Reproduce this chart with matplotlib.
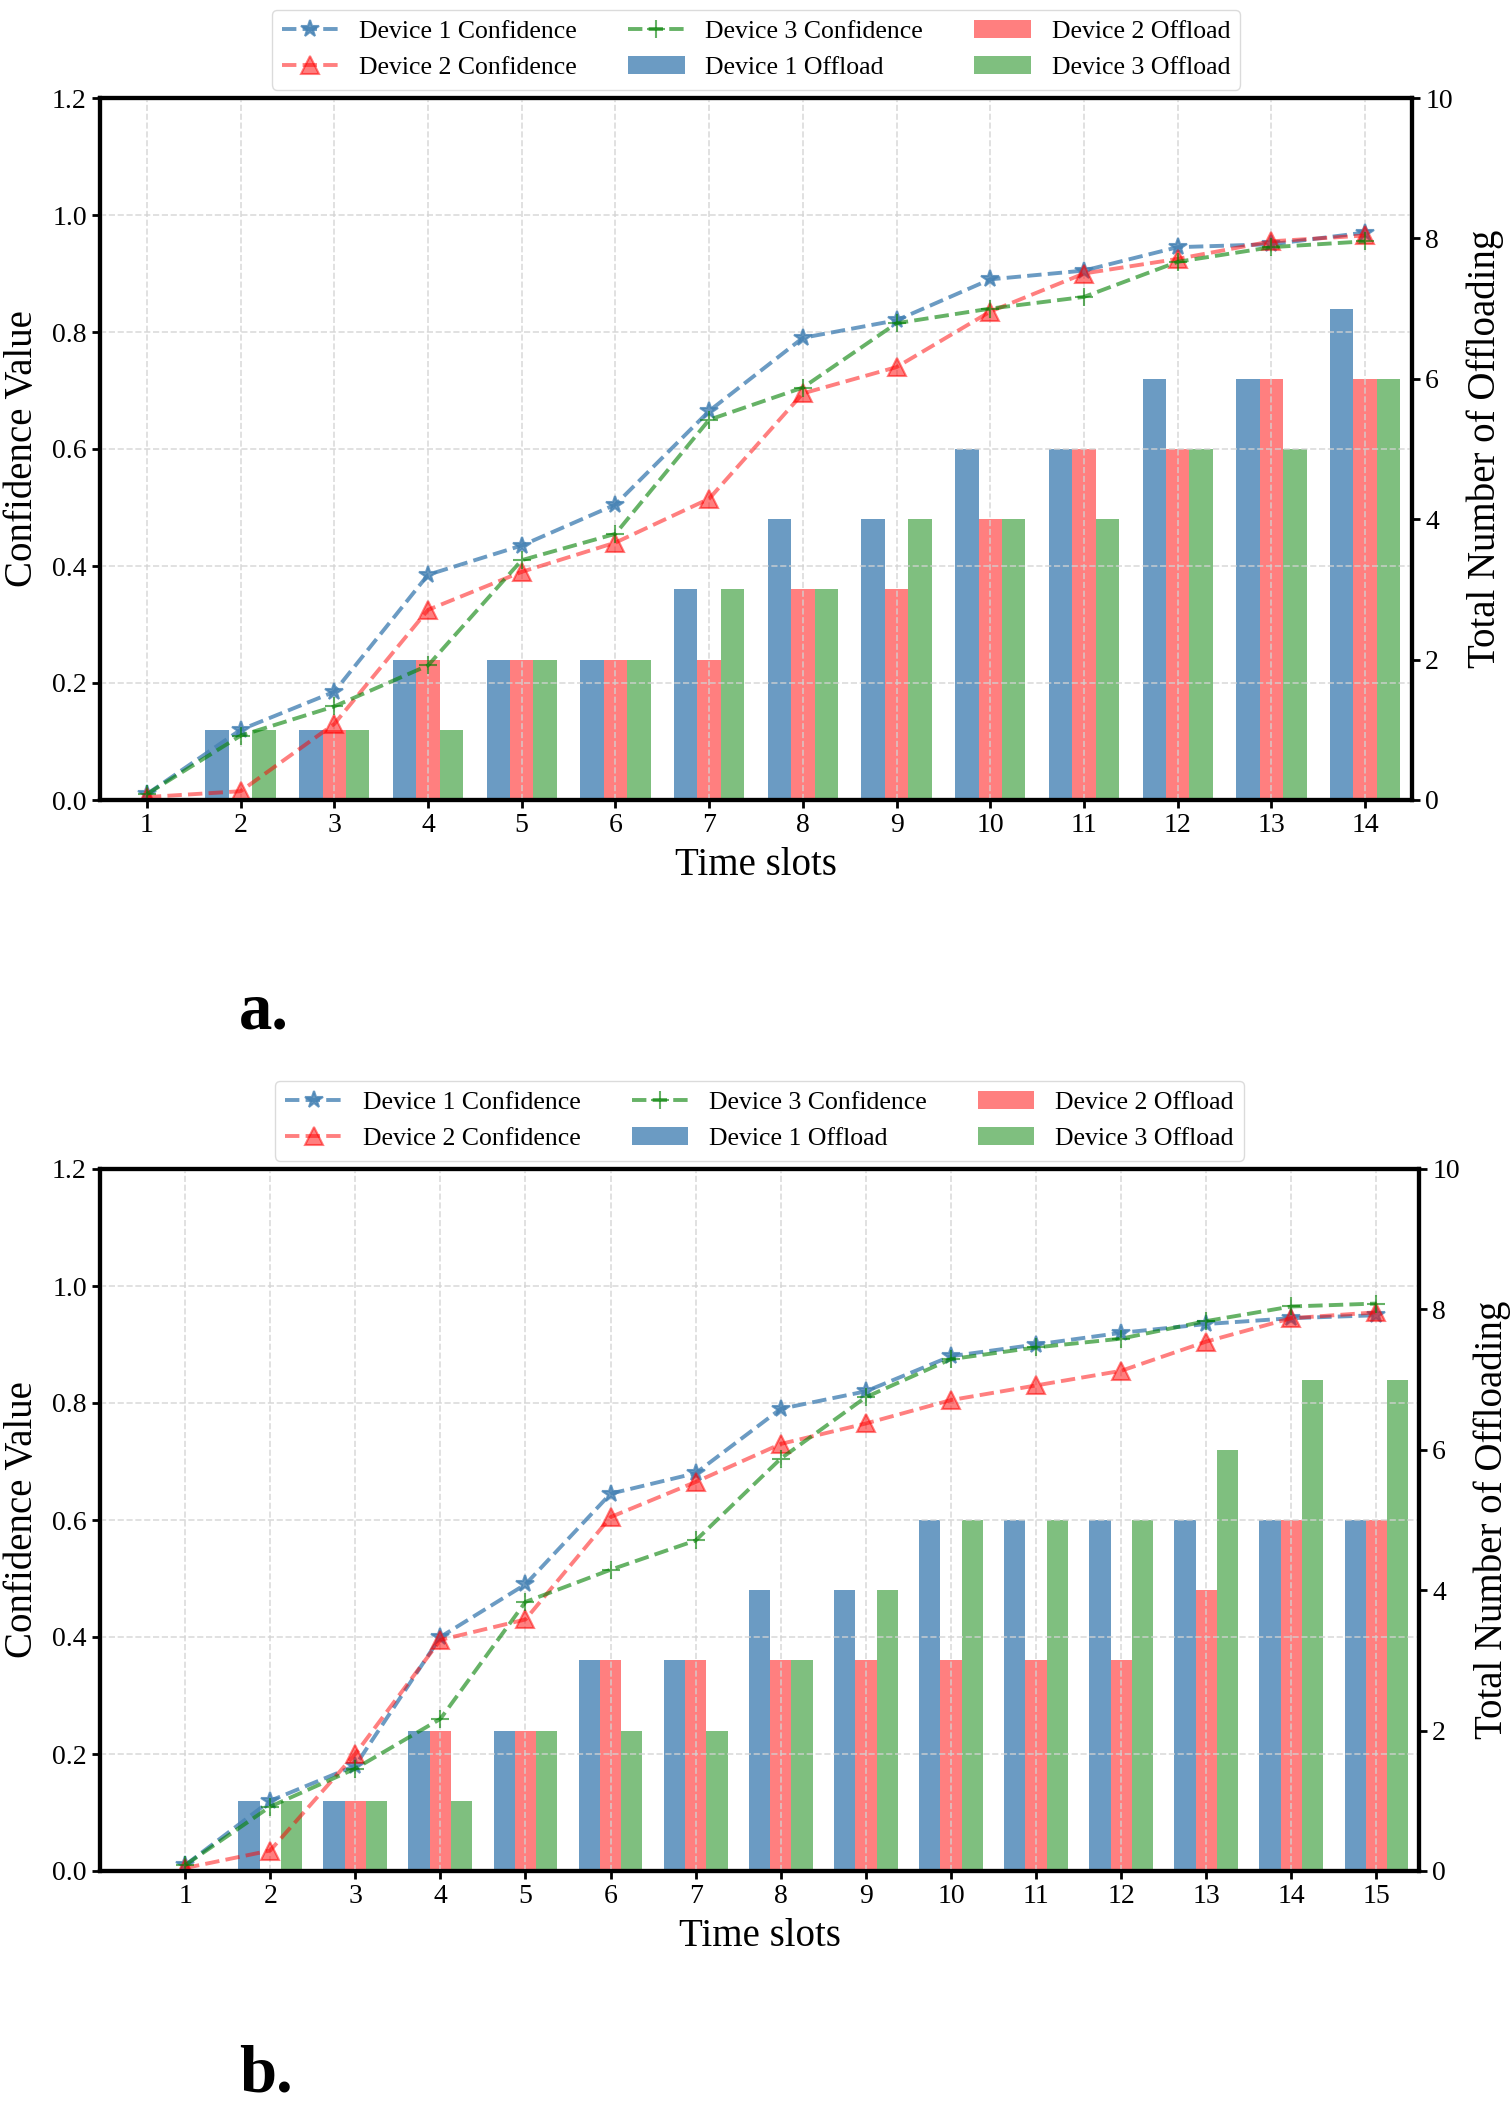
import numpy as np
import matplotlib
matplotlib.use("Agg")
import matplotlib.pyplot as plt

plt.rcParams["font.family"] = ["Liberation Serif", "DejaVu Serif"]

# panel a
slots_a = list(range(1, 15))
conf1_a = [0.01, 0.12, 0.185, 0.385, 0.435, 0.505, 0.665, 0.79, 0.82, 0.89, 0.905, 0.945, 0.95, 0.97]
conf2_a = [0.005, 0.015, 0.13, 0.325, 0.39, 0.44, 0.515, 0.695, 0.74, 0.835, 0.90, 0.925, 0.955, 0.965]
conf3_a = [0.01, 0.11, 0.16, 0.23, 0.41, 0.455, 0.65, 0.705, 0.815, 0.84, 0.86, 0.92, 0.945, 0.955]
off1_a = [0, 1, 1, 2, 2, 2, 3, 4, 4, 5, 5, 6, 6, 7]
off2_a = [0, 0, 1, 2, 2, 2, 2, 3, 3, 4, 5, 5, 6, 6]
off3_a = [0, 1, 1, 1, 2, 2, 3, 3, 4, 4, 4, 5, 5, 6]

# panel b
slots_b = list(range(1, 16))
conf1_b = [0.01, 0.12, 0.18, 0.40, 0.49, 0.645, 0.68, 0.79, 0.82, 0.88, 0.90, 0.92, 0.935, 0.945, 0.95]
conf2_b = [0.005, 0.035, 0.20, 0.395, 0.43, 0.605, 0.665, 0.73, 0.765, 0.805, 0.83, 0.855, 0.905, 0.945, 0.955]
conf3_b = [0.01, 0.11, 0.175, 0.26, 0.46, 0.515, 0.565, 0.705, 0.81, 0.875, 0.895, 0.91, 0.94, 0.965, 0.97]
off1_b = [0, 1, 1, 2, 2, 3, 3, 4, 4, 5, 5, 5, 5, 5, 5]
off2_b = [0, 0, 1, 2, 2, 3, 3, 3, 3, 3, 3, 3, 4, 5, 5]
off3_b = [0, 1, 1, 1, 2, 2, 2, 3, 4, 5, 5, 5, 6, 7, 7]

W, H = 1512, 2107
fig = plt.figure(figsize=(W / 100, H / 100), dpi=100)

BAR_W = 0.25
TICK_FS = 20
LABEL_FS = 28


def panel(rect, slots, confs, offs, xlim, tag, tag_xy):
    ax = fig.add_axes(rect)
    ax2 = ax.twinx()
    # confidence lines and grid sit above the bars
    ax.set_zorder(ax2.get_zorder() + 1)
    ax.patch.set_visible(False)

    x = np.array(slots)
    bar_cols = [("steelblue", 0.8), ("red", 0.5), ("green", 0.5)]
    bars = []
    for i, (o, (c, a)) in enumerate(zip(offs, bar_cols)):
        b = ax2.bar(x + (i - 1) * BAR_W, o, BAR_W, color=c, alpha=a,
                    label=f"Device {i + 1} Offload")
        bars.append(b)

    line_sty = [("steelblue", "*", 0.8), ("red", "^", 0.5), ("green", "+", 0.6)]
    lines = []
    for i, (cv, (c, m, a)) in enumerate(zip(confs, line_sty)):
        ln, = ax.plot(x, cv, linestyle="--", marker=m, color=c, alpha=a,
                      linewidth=2.8, markersize=13, markeredgewidth=1.5,
                      label=f"Device {i + 1} Confidence")
        lines.append(ln)

    ax.set_ylim(0, 1.2)
    ax2.set_ylim(0, 10)
    ax.set_xlim(*xlim)
    ax.set_xticks(slots)
    ax.set_yticks(np.arange(0, 1.21, 0.2))
    ax.set_yticklabels([f"{v:.1f}" for v in np.arange(0, 1.21, 0.2)])
    ax2.set_yticks(range(0, 11, 2))
    ax.grid(True, linestyle="--", color="lightgray", alpha=0.8, linewidth=1.2)

    for a_ in (ax, ax2):
        a_.tick_params(labelsize=TICK_FS, width=2, length=6)
        for s in a_.spines.values():
            s.set_linewidth(3)
    ax.set_xlabel("Time slots", fontsize=LABEL_FS, labelpad=6)
    ax.set_ylabel("Confidence Value", fontsize=LABEL_FS, labelpad=8)
    ax2.set_ylabel("Total Number of Offloading", fontsize=LABEL_FS, labelpad=10)

    handles = lines + bars
    ax.legend(handles=handles, labels=[h.get_label() for h in handles],
              loc="lower center", bbox_to_anchor=(0.5, 1.012), ncol=3,
              fontsize=18.5, frameon=True, edgecolor="lightgray",
              columnspacing=2.0, handlelength=2.2, borderaxespad=0)
    fig.text(tag_xy[0] / W, 1 - tag_xy[1] / H, tag, fontsize=48,
             fontweight="bold", ha="center", va="center")
    return ax


panel([100 / W, (H - 800) / H, 1312 / W, 702 / H], slots_a,
      [conf1_a, conf2_a, conf3_a], [off1_a, off2_a, off3_a],
      (0.5, 14.5), "a.", (264, 1012))
panel([100 / W, (H - 1871) / H, 1319 / W, 702 / H], slots_b,
      [conf1_b, conf2_b, conf3_b], [off1_b, off2_b, off3_b],
      (0.0, 15.5), "b.", (266, 2075))

fig.savefig("out.png", dpi=100)
